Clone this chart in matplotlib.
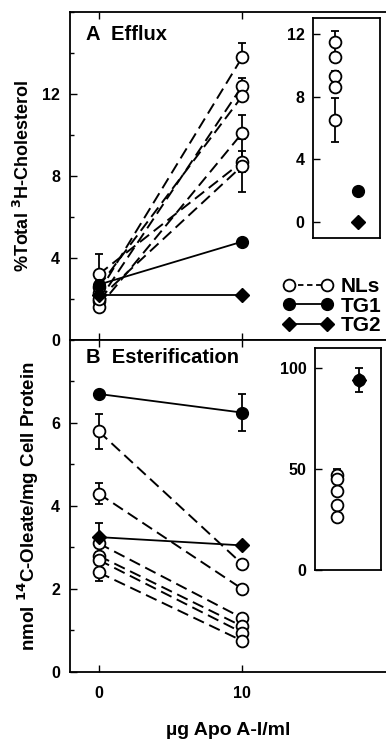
import numpy as np
import matplotlib.pyplot as plt
from matplotlib.lines import Line2D
from matplotlib.ticker import MultipleLocator

plt.rcParams['font.family'] = ['Liberation Sans', 'DejaVu Sans']
plt.rcParams['font.weight'] = 'bold'
plt.rcParams['axes.labelweight'] = 'bold'

# apo A-I doses
dose = [0, 10]

# A: cholesterol efflux (% total 3H-cholesterol)
nl_eff_0 = [2.3, 1.9, 2.6, 1.6, 3.2, 2.0]
nl_eff_10 = [13.8, 12.4, 11.9, 10.1, 8.7, 8.5]
nl_eff_err0 = [0.3, 0.2, 0.3, 0.2, 1.0, 0.2]
nl_eff_err10 = [0.7, 0.4, 0.5, 0.9, 0.5, 1.3]
tg1_eff = [2.7, 4.8]
tg2_eff = [2.2, 2.2]

# A inset: apo A-I dependent efflux
ins_a_nl = [11.5, 10.5, 9.3, 8.6, 6.5]
ins_a_nl_err = [0.7, 0.3, 0.3, 0.2, 1.4]
ins_a_tg1 = 2.0
ins_a_tg2 = 0.0

# B: esterification (nmol 14C-oleate/mg cell protein)
nl_est_0 = [5.8, 4.3, 3.1, 2.8, 2.7, 2.4]
nl_est_10 = [2.6, 2.0, 1.3, 1.1, 0.95, 0.75]
nl_est_err0 = [0.42, 0.25, 0.1, 0.1, 0.1, 0.2]
nl_est_err10 = [0.1, 0.1, 0.1, 0.1, 0.1, 0.1]
tg1_est = [6.7, 6.25]
tg1_est_err = [0.05, 0.45]
tg2_est = [3.25, 3.05]
tg2_est_err = [0.35, 0.05]

# B inset: % of control esterification
ins_b_nl = [47, 45, 39, 32, 26.5]
ins_b_nl_err = [3, 0, 0, 0, 0]
ins_b_tg = 94
ins_b_tg_err = 6

fig = plt.figure(figsize=(3.86, 7.43), dpi=100)
left, width = 0.181, 0.819
axA = fig.add_axes([left, 0.5424, width, 0.4414])
axB = fig.add_axes([left, 0.0956, width, 0.4468])

ms = 8.5
open_kw = dict(marker='o', mfc='white', mec='black', mew=1.3, ms=ms)
err_kw = dict(fmt='none', ecolor='black', elinewidth=1.3, capsize=3, capthick=1.3)

def style(ax):
    ax.set_xlim(-2, 20)
    ax.spines['right'].set_visible(False)
    ax.tick_params(direction='in', which='both', top=True, labelsize=11.5, width=1)
    ax.tick_params(which='major', length=5)
    ax.tick_params(which='minor', length=3)
    ax.tick_params(axis='y', pad=7)
    ax.tick_params(axis='x', pad=10)
    ax.set_xticks([0, 10])
    for s in ax.spines.values():
        s.set_linewidth(1.3)

# panel A
for y0, y1, e0, e1 in zip(nl_eff_0, nl_eff_10, nl_eff_err0, nl_eff_err10):
    axA.plot(dose, [y0, y1], color='black', lw=1.4, dashes=(6, 3), zorder=2)
    axA.errorbar(dose, [y0, y1], yerr=[[0, e1 if y1 < 9 else 0], [e0, e1]], zorder=3, **err_kw)
    axA.plot(dose, [y0, y1], ls='none', zorder=4, **open_kw)
axA.plot(dose, tg1_eff, color='black', lw=1.3, marker='o', ms=ms, zorder=5)
axA.plot(dose, tg2_eff, color='black', lw=1.3, marker='D', ms=7.5, zorder=5)
style(axA)
axA.set_ylim(0, 16)
axA.set_yticks([0, 4, 8, 12])
axA.yaxis.set_minor_locator(MultipleLocator(2))
axA.tick_params(labelbottom=False)
axA.set_ylabel('%Total $\\mathbf{^3}$H-Cholesterol', fontsize=13, labelpad=7)
axA.text(0.05, 0.933, 'A  Efflux', transform=axA.transAxes, fontsize=14.5,
         fontweight='bold', va='center')

handles = [
    Line2D([], [], color='black', lw=1.3, dashes=(3, 2), **open_kw),
    Line2D([], [], color='black', lw=1.3, marker='o', ms=ms),
    Line2D([], [], color='black', lw=1.3, marker='D', ms=7.5),
]
axA.legend(handles, ['NLs', 'TG1', 'TG2'], loc='lower right', bbox_to_anchor=(0.985, 0.015),
           frameon=False, fontsize=15, numpoints=2, handlelength=2.4, handletextpad=0.35,
           labelspacing=0.02, borderaxespad=0, borderpad=0)

# panel B
for y0, y1, e0, e1 in zip(nl_est_0, nl_est_10, nl_est_err0, nl_est_err10):
    axB.plot(dose, [y0, y1], color='black', lw=1.4, dashes=(6, 3), zorder=2)
    axB.errorbar(dose, [y0, y1], yerr=[e0, e1], zorder=3, **err_kw)
    axB.plot(dose, [y0, y1], ls='none', zorder=4, **open_kw)
axB.errorbar(dose, tg1_est, yerr=tg1_est_err, zorder=3, **err_kw)
axB.plot(dose, tg1_est, color='black', lw=1.3, marker='o', ms=ms, zorder=5)
axB.errorbar(dose, tg2_est, yerr=tg2_est_err, zorder=3, **err_kw)
axB.plot(dose, tg2_est, color='black', lw=1.3, marker='D', ms=7.5, zorder=5)
style(axB)
axB.set_ylim(0, 8)
axB.set_yticks([0, 2, 4, 6])
axB.yaxis.set_minor_locator(MultipleLocator(1))
axB.set_ylabel('nmol $\\mathbf{^{14}}$C-Oleate/mg Cell Protein', fontsize=13.5, labelpad=7)
axB.set_xlabel('µg Apo A-I/ml', fontsize=14, labelpad=15)
axB.text(0.05, 0.946, 'B  Esterification', transform=axB.transAxes, fontsize=14.5,
         fontweight='bold', va='center')

# insets
insA = fig.add_axes([0.811, 0.6797, 0.174, 0.296])
insA.errorbar([1] * len(ins_a_nl), ins_a_nl, yerr=ins_a_nl_err, zorder=3, **err_kw)
insA.plot([1] * len(ins_a_nl), ins_a_nl, ls='none', zorder=4, **open_kw)
insA.plot([2], [ins_a_tg1], ls='none', marker='o', color='black', ms=ms)
insA.plot([2], [ins_a_tg2], ls='none', marker='D', color='black', ms=7.5)
insA.set_xlim(0, 3)
insA.set_ylim(-1, 13)
insA.set_yticks([0, 4, 8, 12])

insB = fig.add_axes([0.816, 0.2328, 0.171, 0.2988])
insB.errorbar([1] * len(ins_b_nl), ins_b_nl, yerr=[[0] * 5, ins_b_nl_err], zorder=3, **err_kw)
insB.plot([1] * len(ins_b_nl), ins_b_nl, ls='none', zorder=4, **open_kw)
insB.errorbar([2], [ins_b_tg], yerr=ins_b_tg_err, zorder=3, **err_kw)
insB.plot([2], [ins_b_tg], ls='none', marker='o', color='black', ms=ms, zorder=4)
insB.plot([2], [ins_b_tg], ls='none', marker='D', color='black', ms=7.5, zorder=5)
insB.set_xlim(0, 3)
insB.set_ylim(0, 110)
insB.set_yticks([0, 50, 100])

for ax in (insA, insB):
    ax.set_xticks([])
    ax.tick_params(direction='in', length=5, labelsize=11.5, width=1, pad=6)
    for s in ax.spines.values():
        s.set_linewidth(1.3)

fig.savefig('out.png', dpi=100)
